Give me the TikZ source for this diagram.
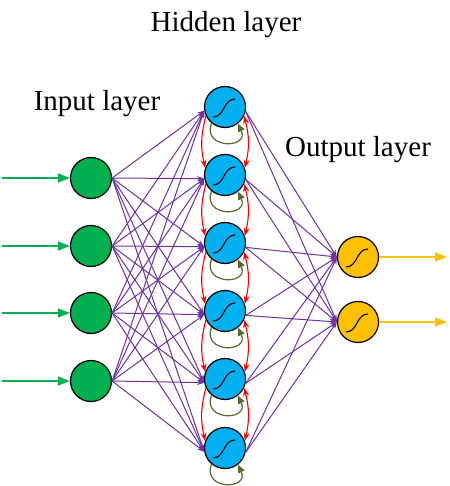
\documentclass[tikz,border=0pt]{standalone}
\usepackage{fontspec}
\setmainfont{Liberation Serif}
\usetikzlibrary{arrows.meta}
\definecolor{purp}{HTML}{7030A0}
\definecolor{ingreen}{HTML}{00B050}
\definecolor{hidblue}{HTML}{00B0F0}
\definecolor{outorange}{HTML}{FFC000}
\definecolor{loopolive}{HTML}{556B2F}
\definecolor{recred}{HTML}{FF0000}
\begin{document}
\begin{tikzpicture}[x=1pt,y=1pt,
  neuron/.style={circle,draw=black,line width=1.2pt,minimum size=41pt,inner sep=0pt},
  sigm/.style={path picture={\draw[line width=1.1pt,black]
      ([shift={(-12pt,-10pt)}]path picture bounding box.center)
      .. controls +(12pt,0pt) and +(-12pt,0pt) .. +(22pt,18pt);}},
  innode/.style={neuron,fill=ingreen},
  hidnode/.style={neuron,fill=hidblue,sigm},
  outnode/.style={neuron,fill=outorange,sigm},
  wire/.style={draw=purp,line width=1pt,-{Stealth[length=7pt,width=5pt]}},
  recur/.style={draw=recred,line width=1.1pt,-{Stealth[length=8pt,width=6pt]}},
  recurboth/.style={draw=recred,line width=1.1pt,{Stealth[length=8pt,width=6pt]}-{Stealth[length=8pt,width=6pt]}},
  selfloop/.style={draw=loopolive,line width=1.2pt,-{Triangle[length=8pt,width=7pt]}},
  inarrow/.style={draw=ingreen,line width=1.3pt,-{Triangle[length=12pt,width=9pt]}},
  outarrow/.style={draw=outorange,line width=1.3pt,-{Triangle[length=12pt,width=9pt]}},
  lbl/.style={font=\fontsize{29}{31}\selectfont,inner sep=0pt}]
\useasboundingbox (0,0) rectangle (449,-486);

% labels
\node[lbl] (lh) at (226,-25) {Hidden layer};
\node[lbl] (li) at (97,-104) {Input layer};
\node[lbl] (lo) at (358,-150) {Output layer};

% input nodes
\node[innode] (i1) at (91,-178) {};
\node[innode] (i2) at (91,-246) {};
\node[innode] (i3) at (91,-313) {};
\node[innode] (i4) at (91,-381) {};

% hidden nodes
\node[hidnode] (h1) at (225,-107) {};
\node[hidnode] (h2) at (225,-175) {};
\node[hidnode] (h3) at (225,-243) {};
\node[hidnode] (h4) at (225,-311) {};
\node[hidnode] (h5) at (225,-379) {};
\node[hidnode] (h6) at (225,-448) {};

% output nodes
\node[outnode] (o1) at (358,-257) {};
\node[outnode] (o2) at (358,-322) {};

% input arrows
\foreach \k/\y in {1/178,2/246,3/313,4/381}{
  \coordinate (s\k) at (2,-\y);
  \draw[inarrow] (s\k) -- (i\k);
}
% output arrows
\coordinate (e1) at (447,-257);
\coordinate (e2) at (447,-322);
\draw[outarrow] (o1) -- (e1);
\draw[outarrow] (o2) -- (e2);

% input -> hidden
\foreach \a in {1,...,4}{
  \foreach \b in {1,...,6}{
    \draw[wire] (i\a.east) -- (h\b.190);
  }
}
% hidden -> output
\foreach \b in {1,...,6}{
  \foreach \c in {1,2}{
    \draw[wire] (h\b.-12) -- (o\c.west);
  }
}

% recurrent links between neighbours
\foreach \a/\b in {1/2,2/3,3/4,4/5,5/6}{
  \draw[recur] (h\a.205) to[bend right=14] (h\b.160);
  \draw[recurboth] (h\a.-25) to[bend left=14] (h\b.20);
}

% self loops
\foreach \b in {1,...,6}{
  \draw[selfloop] (h\b.-130) .. controls +(-110:28) and +(-65:28) .. (h\b.-52);
}
\end{tikzpicture}
\end{document}
